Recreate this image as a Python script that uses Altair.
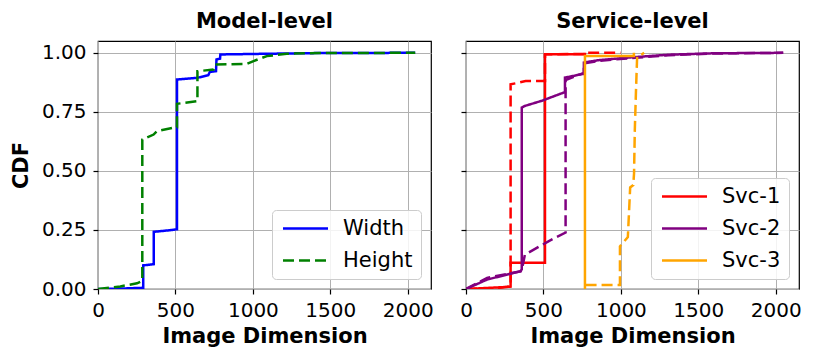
import altair as alt
import pandas as pd

# ---- Model-level (left panel) ----
model_series = ["Width", "Height"]
model_colors = ["#0000ff", "#008000"]

width_x = [0, 150, 292, 292, 360, 360, 480, 508, 510, 510, 640, 712, 722, 762, 765, 788, 790, 1090, 1430, 2048]
width_y = [0, 0.002, 0.005, 0.100, 0.105, 0.242, 0.250, 0.253, 0.253, 0.887, 0.894, 0.905, 0.919, 0.922, 0.972, 0.975, 0.993, 0.996, 0.999, 1.0]

height_x = [0, 144, 252, 286, 286, 359, 380, 505, 510, 510, 639, 642, 642, 746, 757, 961, 1004, 1090, 1219, 1434, 2048]
height_y = [0, 0.011, 0.024, 0.035, 0.633, 0.654, 0.668, 0.685, 0.685, 0.784, 0.795, 0.795, 0.922, 0.929, 0.951, 0.953, 0.965, 0.986, 0.996, 0.999, 1.0]

# ---- Service-level (right panel) ----
services = ["Svc-1", "Svc-2", "Svc-3"]
service_colors = ["#ff0000", "#800080", "#ffa500"]

svc1_w_x = [0, 245, 288, 288, 510, 510, 768, 768]
svc1_w_y = [0, 0.008, 0.010, 0.111, 0.111, 0.994, 0.994, 1.0]
svc1_h_x = [0, 200, 270, 288, 288, 330, 385, 510, 510, 768, 768, 998]
svc1_h_y = [0, 0.003, 0.010, 0.015, 0.867, 0.872, 0.881, 0.881, 0.994, 0.995, 1.0, 1.0]

svc2_w_x = [0, 136, 351, 360, 360, 380, 490, 632, 639, 639, 750, 761, 761, 858, 1071, 1310, 1600, 2048]
svc2_w_y = [0, 0.040, 0.075, 0.083, 0.768, 0.775, 0.797, 0.832, 0.832, 0.895, 0.910, 0.910, 0.959, 0.969, 0.981, 0.992, 0.998, 1.0]
svc2_h_x = [0, 136, 353, 362, 380, 535, 643, 643, 740, 761, 761, 858, 1071, 1310, 1600, 2048]
svc2_h_y = [0, 0.047, 0.075, 0.085, 0.145, 0.203, 0.239, 0.885, 0.910, 0.915, 0.955, 0.966, 0.978, 0.990, 0.997, 1.0]

svc3_w_x = [768, 768, 1084, 1084]
svc3_w_y = [0, 0.987, 0.987, 1.0]
svc3_h_x = [772, 994, 994, 1000, 1040, 1045, 1060, 1080, 1085, 1090, 1098, 1105, 1127, 1150]
svc3_h_y = [0.017, 0.017, 0.180, 0.185, 0.216, 0.220, 0.430, 0.440, 0.490, 0.675, 0.850, 0.985, 0.990, 1.0]

x_ticks = [0, 500, 1000, 1500, 2000]
y_ticks = [0, 0.25, 0.5, 0.75, 1.0]


def build(rows, series, dim, xs, ys):
    for i, (a, b) in enumerate(zip(xs, ys)):
        rows.append({"series": series, "dim": dim, "key": series + "-" + dim,
                     "x": a, "y": b, "order": i})


left_rows = []
build(left_rows, "Width", "Width", width_x, width_y)
build(left_rows, "Height", "Height", height_x, height_y)
left_df = pd.DataFrame(left_rows)

right_rows = []
build(right_rows, "Svc-1", "Width", svc1_w_x, svc1_w_y)
build(right_rows, "Svc-1", "Height", svc1_h_x, svc1_h_y)
build(right_rows, "Svc-2", "Width", svc2_w_x, svc2_w_y)
build(right_rows, "Svc-2", "Height", svc2_h_x, svc2_h_y)
build(right_rows, "Svc-3", "Width", svc3_w_x, svc3_w_y)
build(right_rows, "Svc-3", "Height", svc3_h_x, svc3_h_y)
right_df = pd.DataFrame(right_rows)

FONT = "DejaVu Sans"
LW = 2.5
xscale = alt.Scale(domain=[0, 2150], nice=False, zero=False)
yscale = alt.Scale(domain=[0, 1.05], nice=False)

legend_kw = dict(
    title=None, orient="bottom-right", offset=10,
    symbolType="M-3,0H3", symbolSize=225, symbolStrokeWidth=LW,
    symbolOffset=15, labelOffset=27,
    labelFontSize=21, labelFont=FONT, labelColor="black",
    fillColor="rgba(255,255,255,0.85)", strokeColor="#cccccc",
    cornerRadius=4, padding=8, rowPadding=10,
)

xaxis = alt.Axis(values=x_ticks, title="Image Dimension", format="d",
                 labelFlush=False, labelPadding=6, titlePadding=5)

left = alt.Chart(left_df).mark_line(strokeWidth=LW, clip=True).encode(
    x=alt.X("x:Q", scale=xscale, axis=xaxis),
    y=alt.Y("y:Q", scale=yscale,
            axis=alt.Axis(values=y_ticks, format=".2f", title="CDF",
                          labelPadding=7, titlePadding=10)),
    color=alt.Color("series:N",
                    scale=alt.Scale(domain=model_series, range=model_colors),
                    legend=alt.Legend(**legend_kw)),
    strokeDash=alt.StrokeDash("series:N",
                              scale=alt.Scale(domain=model_series, range=[[1, 0], [11, 5]]),
                              legend=alt.Legend(**legend_kw)),
    detail="key:N",
    order="order:Q",
).properties(width=333, height=248, title="Model-level")

right = alt.Chart(right_df).mark_line(strokeWidth=LW, clip=True).encode(
    x=alt.X("x:Q", scale=xscale, axis=xaxis),
    y=alt.Y("y:Q", scale=yscale,
            axis=alt.Axis(values=y_ticks, labels=False, title=None)),
    color=alt.Color("series:N",
                    scale=alt.Scale(domain=services, range=service_colors),
                    legend=alt.Legend(**legend_kw)),
    strokeDash=alt.StrokeDash("dim:N",
                              scale=alt.Scale(domain=["Width", "Height"], range=[[1, 0], [11, 5]]),
                              legend=None),
    detail="key:N",
    order="order:Q",
).properties(width=333, height=248, title="Service-level")

chart = alt.hconcat(left, right, spacing=25).resolve_scale(
    color="independent", strokeDash="independent"
).resolve_legend(color="independent", strokeDash="independent").properties(
    padding={"left": 1, "top": 2, "right": 5, "bottom": 5}
).configure_view(
    stroke="black", strokeWidth=1.2
).configure_axis(
    domain=False, grid=True, gridColor="#b0b0b0", gridWidth=1,
    ticks=True, tickColor="black", tickSize=5, tickWidth=1.2,
    labelFont=FONT, labelFontSize=20, labelColor="black",
    titleFont=FONT, titleFontSize=21, titleFontWeight="bold", titleColor="black",
).configure_title(
    font=FONT, fontSize=21, fontWeight="bold", color="black", offset=9, anchor="middle"
)

chart.save("out.html", embed_options={"renderer": "svg", "actions": False})
